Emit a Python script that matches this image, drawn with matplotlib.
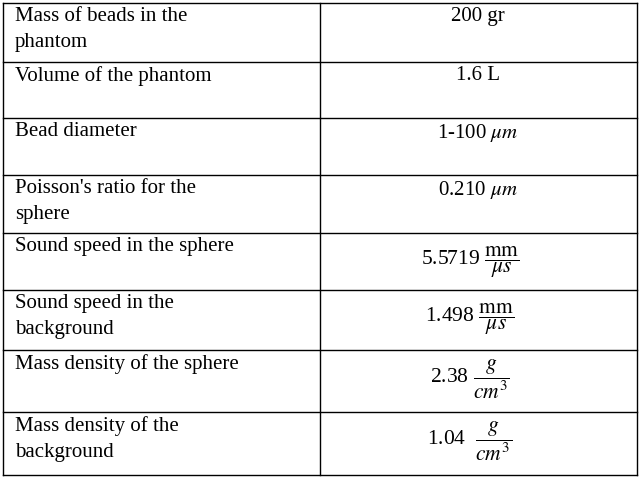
import matplotlib
matplotlib.use("Agg")
import matplotlib.pyplot as plt

params = ["Mass of beads in the\nphantom", "Volume of the phantom", "Bead diameter",
          "Poisson's ratio for the\nsphere", "Sound speed in the sphere",
          "Sound speed in the\nbackground", "Mass density of the sphere",
          "Mass density of the\nbackground"]
values = ["200 gr", "1.6 L", r"1-100 $\mu m$", r"0.210 $\mu m$",
          r"5.5719 $\dfrac{\mathrm{mm}}{\mu s}$", r"1.498 $\dfrac{\mathrm{mm}}{\mu s}$",
          r"2.38 $\dfrac{g}{cm^3}$", r"1.04  $\dfrac{g}{cm^3}$"]
row_edges = [3, 62, 118, 175, 233, 290, 350, 412, 475]

plt.rcParams['font.family'] = ['Liberation Serif', 'DejaVu Serif']
plt.rcParams['mathtext.fontset'] = 'stix'

fig = plt.figure(figsize=(6.4, 4.78), dpi=100)
ax = fig.add_axes([0, 0, 1, 1])
ax.set_xlim(0, 640); ax.set_ylim(478, 0); ax.axis('off')

L, M, R = 3, 320, 637
for y in row_edges:
    ax.plot([L, R], [y, y], color='black', lw=1)
for x in (L, M, R):
    ax.plot([x, x], [row_edges[0], row_edges[-1]], color='black', lw=1)

for i, (p, v) in enumerate(zip(params, values)):
    top = row_edges[i]
    ax.text(15, top + 4, p, ha='left', va='top', fontsize=15, linespacing=1.5)
    if r"\dfrac" in v:
        ax.text(470, top + 29, v, ha='center', va='center', fontsize=15.5)
    else:
        ax.text(478, top + 4, v, ha='center', va='top', fontsize=15)

fig.savefig("out.png", dpi=100)
